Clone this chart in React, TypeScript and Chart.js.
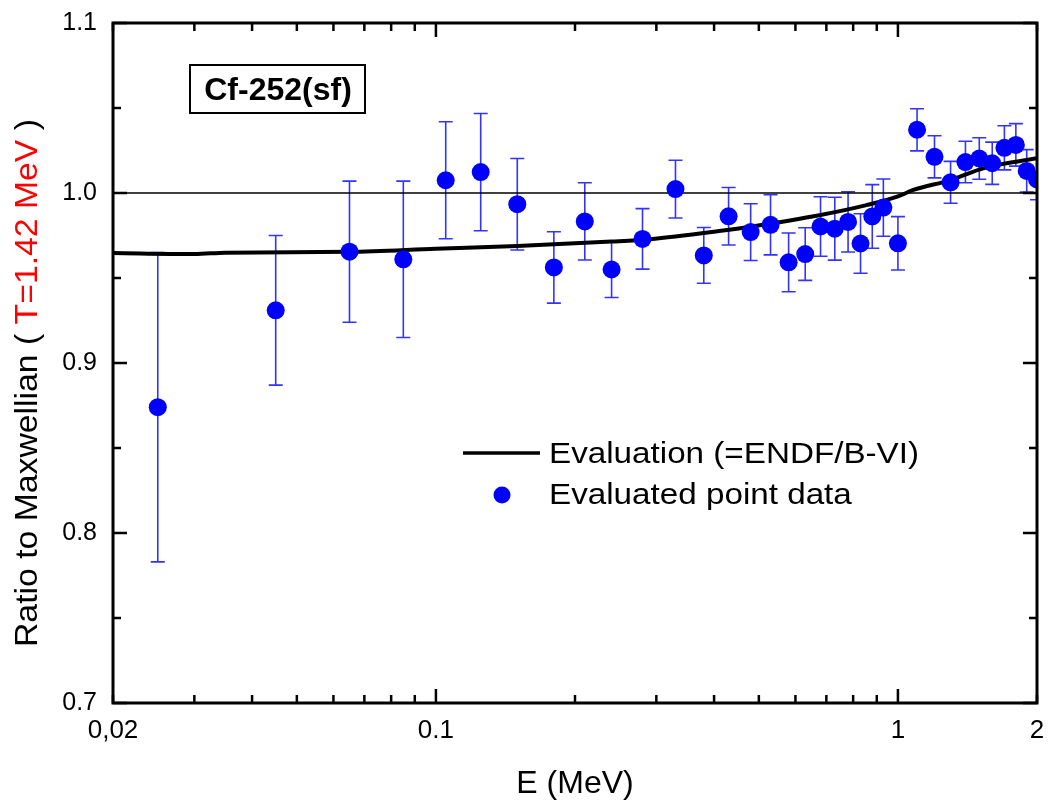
import React, { useEffect, useRef } from 'react';
import { Chart, registerables } from 'chart.js';

Chart.register(...registerables);

// ---- data ----
const POINT_E = [0.025, 0.045, 0.065, 0.085, 0.105, 0.125, 0.15, 0.18, 0.21, 0.24, 0.28, 0.33, 0.38, 0.43, 0.48, 0.53, 0.58, 0.63, 0.68, 0.73, 0.78, 0.83, 0.88, 0.93, 1.0, 1.1, 1.2, 1.3, 1.4, 1.5, 1.6, 1.7, 1.8, 1.9, 2.0];
const POINT_R = [0.874, 0.931, 0.9655, 0.961, 1.0075, 1.0123, 0.9934, 0.9562, 0.9833, 0.955, 0.973, 1.0023, 0.9633, 0.9863, 0.977, 0.9813, 0.9592, 0.9641, 0.9803, 0.979, 0.983, 0.9703, 0.9862, 0.9914, 0.9704, 1.0372, 1.0213, 1.0063, 1.0182, 1.0203, 1.0175, 1.0266, 1.0283, 1.013, 1.008];
const POINT_ERR = [0.091, 0.044, 0.0415, 0.046, 0.0344, 0.0345, 0.0269, 0.021, 0.0227, 0.0165, 0.0178, 0.017, 0.0164, 0.0169, 0.0167, 0.0177, 0.0173, 0.0155, 0.0175, 0.0185, 0.0177, 0.0175, 0.0187, 0.0168, 0.0157, 0.0124, 0.0124, 0.0123, 0.0122, 0.0122, 0.0124, 0.013, 0.0125, 0.0125, 0.012];

const EVAL_E = [0.02, 0.03, 0.035, 0.065, 0.1, 0.15, 0.24, 0.29, 0.41, 0.48, 0.68, 0.855, 1.0, 1.08, 1.3, 1.53, 2.0];
const EVAL_R = [0.9647, 0.9641, 0.9649, 0.9654, 0.9672, 0.9688, 0.9714, 0.9728, 0.9776, 0.9802, 0.9871, 0.9929, 0.998, 1.0018, 1.0076, 1.0145, 1.0204];

const REF_E = [0.02, 2];
const REF_R = [1.0, 1.0];

const X_TICKS = [0.02, 0.03, 0.04, 0.05, 0.06, 0.07, 0.08, 0.09, 0.1, 0.2, 0.3, 0.4, 0.5, 0.6, 0.7, 0.8, 0.9, 1, 2];
const X_MAJOR = [0.1, 1];
const X_LABEL_VALUES = [0.02, 0.1, 1, 2];
const X_LABELS = ['0,02', '0.1', '1', '2'];

const Y_MAJOR = [0.7, 0.8, 0.9, 1.0, 1.1];
const Y_LABELS = ['0.7', '0.8', '0.9', '1.0', '1.1'];
const Y_MINOR = [0.75, 0.85, 0.95, 1.05];

const FONT = "'Liberation Sans', Arial, Helvetica, sans-serif";
const BLUE = '#0000ff';

const decorPlugin = {
  id: 'decor',
  beforeDatasetsDraw(chart: any) {
    const { ctx, chartArea: ca } = chart;
    const xs = chart.scales.x;
    const ys = chart.scales.y;
    ctx.save();
    ctx.beginPath();
    ctx.rect(ca.left, ca.top, ca.right - ca.left, ca.bottom - ca.top);
    ctx.clip();
    ctx.strokeStyle = 'rgba(0,0,255,0.8)';
    ctx.lineWidth = 1.6;
    for (let i = 0; i < POINT_E.length; i++) {
      const x = xs.getPixelForValue(POINT_E[i]);
      const y1 = ys.getPixelForValue(POINT_R[i] + POINT_ERR[i]);
      const y2 = ys.getPixelForValue(POINT_R[i] - POINT_ERR[i]);
      ctx.beginPath();
      ctx.moveTo(x, y1);
      ctx.lineTo(x, y2);
      ctx.moveTo(x - 7, y1);
      ctx.lineTo(x + 7, y1);
      ctx.moveTo(x - 7, y2);
      ctx.lineTo(x + 7, y2);
      ctx.stroke();
    }
    ctx.restore();
  },
  afterDraw(chart: any) {
    const { ctx, chartArea: ca } = chart;
    const xs = chart.scales.x;
    const ys = chart.scales.y;
    ctx.save();
    // frame
    ctx.strokeStyle = '#000';
    ctx.lineWidth = 3;
    ctx.strokeRect(ca.left, ca.top, ca.right - ca.left, ca.bottom - ca.top);
    // ticks
    ctx.lineWidth = 2.5;
    ctx.beginPath();
    X_TICKS.forEach((v) => {
      const x = xs.getPixelForValue(v);
      const len = X_MAJOR.includes(v) ? 14 : 8;
      ctx.moveTo(x, ca.bottom);
      ctx.lineTo(x, ca.bottom - len);
      ctx.moveTo(x, ca.top);
      ctx.lineTo(x, ca.top + len);
    });
    Y_MAJOR.forEach((v) => {
      const y = ys.getPixelForValue(v);
      ctx.moveTo(ca.left, y);
      ctx.lineTo(ca.left + 14, y);
      ctx.moveTo(ca.right, y);
      ctx.lineTo(ca.right - 14, y);
    });
    Y_MINOR.forEach((v) => {
      const y = ys.getPixelForValue(v);
      ctx.moveTo(ca.left, y);
      ctx.lineTo(ca.left + 8, y);
      ctx.moveTo(ca.right, y);
      ctx.lineTo(ca.right - 8, y);
    });
    ctx.stroke();

    // label box
    ctx.lineWidth = 2;
    ctx.strokeRect(190, 65, 175, 48);
    ctx.fillStyle = '#000';
    ctx.font = `bold 32px ${FONT}`;
    ctx.textAlign = 'center';
    ctx.textBaseline = 'alphabetic';
    ctx.fillText('Cf-252(sf)', 278, 100);

    // legend
    ctx.lineWidth = 3.5;
    ctx.beginPath();
    ctx.moveTo(463, 453);
    ctx.lineTo(540, 453);
    ctx.stroke();
    ctx.fillStyle = BLUE;
    ctx.beginPath();
    ctx.arc(502, 495, 8.5, 0, Math.PI * 2);
    ctx.fill();
    ctx.fillStyle = '#000';
    ctx.font = `30px ${FONT}`;
    ctx.textAlign = 'left';
    ctx.textBaseline = 'middle';
    const drawStretched = (t: string, x: number, y: number, sx: number) => {
      ctx.save();
      ctx.translate(x, y);
      ctx.scale(sx, 1);
      ctx.fillText(t, 0, 0);
      ctx.restore();
    };
    drawStretched('Evaluation (=ENDF/B-VI)', 549, 455, 1.107);
    drawStretched('Evaluated point data', 549, 496, 1.107);

    // x title
    ctx.font = `32px ${FONT}`;
    ctx.textAlign = 'center';
    ctx.textBaseline = 'alphabetic';
    ctx.fillText('E (MeV)', (ca.left + ca.right) / 2, 793);

    // y title (two colours)
    ctx.font = `31px ${FONT}`;
    const parts = [
      { t: 'Ratio to Maxwellian ( ', c: '#000' },
      { t: 'T=1.42 MeV', c: '#ff0000' },
      { t: ' )', c: '#000' },
    ];
    const widths = parts.map((p) => ctx.measureText(p.t).width);
    const total = widths.reduce((a, b) => a + b, 0);
    const target = 528;
    const sx = target / total;
    ctx.translate(37, 383);
    ctx.rotate(-Math.PI / 2);
    ctx.scale(sx, 1);
    ctx.textAlign = 'left';
    let px = -total / 2;
    parts.forEach((p, i) => {
      ctx.fillStyle = p.c;
      ctx.fillText(p.t, px, 0);
      px += widths[i];
    });
    ctx.restore();
  },
};

export default function App() {
  const ref = useRef<HTMLCanvasElement | null>(null);
  useEffect(() => {
    document.body.style.margin = '0';
    const canvas = ref.current;
    if (!canvas) return;
    const chart = new Chart(canvas, {
      type: 'scatter',
      data: {
        datasets: [
          {
            type: 'scatter',
            label: 'Evaluated point data',
            data: POINT_E.map((e, i) => ({ x: e, y: POINT_R[i] })),
            pointRadius: 9,
            pointHoverRadius: 9,
            backgroundColor: BLUE,
            borderWidth: 0,
            order: 0,
          } as any,
          {
            type: 'line',
            label: 'Evaluation (=ENDF/B-VI)',
            data: EVAL_E.map((e, i) => ({ x: e, y: EVAL_R[i] })),
            borderColor: '#000',
            borderWidth: 4,
            pointRadius: 0,
            cubicInterpolationMode: 'monotone',
            fill: false,
            order: 1,
          } as any,
          {
            type: 'line',
            label: 'unity',
            data: REF_E.map((e, i) => ({ x: e, y: REF_R[i] })),
            borderColor: '#000',
            borderWidth: 1.5,
            pointRadius: 0,
            fill: false,
            order: 2,
          } as any,
        ],
      },
      options: {
        animation: false,
        responsive: false,
        devicePixelRatio: 1,
        layout: { padding: { left: 0, right: 13, top: 23, bottom: 0 } },
        plugins: { legend: { display: false }, tooltip: { enabled: false } },
        scales: {
          x: {
            type: 'logarithmic',
            min: 0.02,
            max: 2,
            position: 'bottom',
            grid: { display: false, drawTicks: false },
            border: { display: false },
            ticks: {
              autoSkip: false,
              maxRotation: 0,
              minRotation: 0,
              padding: 12,
              color: '#000',
              font: { family: FONT, size: 26 },
              callback: (v: any) => {
                const idx = X_LABEL_VALUES.findIndex((t) => Math.abs(t - Number(v)) < 1e-9);
                return idx >= 0 ? X_LABELS[idx] : '';
              },
            },
            afterBuildTicks: (s: any) => {
              s.ticks = X_TICKS.map((v) => ({ value: v }));
            },
            afterFit: (s: any) => {
              s.height = 102;
              s.paddingLeft = 0;
              s.paddingRight = 0;
              s.paddingTop = 0;
              s.paddingBottom = 0;
            },
          },
          y: {
            type: 'linear',
            min: 0.7,
            max: 1.1,
            grid: { display: false, drawTicks: false },
            border: { display: false },
            ticks: {
              padding: 16,
              color: '#000',
              font: { family: FONT, size: 25 },
              callback: (_v: any, i: number) => Y_LABELS[i],
            },
            afterBuildTicks: (s: any) => {
              s.ticks = Y_MAJOR.map((v) => ({ value: v }));
            },
            afterFit: (s: any) => {
              s.width = 113;
              s.paddingLeft = 0;
              s.paddingRight = 0;
              s.paddingTop = 0;
              s.paddingBottom = 0;
            },
          },
        },
      } as any,
      plugins: [decorPlugin],
    });
    return () => chart.destroy();
  }, []);
  return (
    <div style={{ width: 1050, height: 805, background: '#fff' }}>
      <canvas ref={ref} width={1050} height={805} style={{ display: 'block' }} />
    </div>
  );
}
